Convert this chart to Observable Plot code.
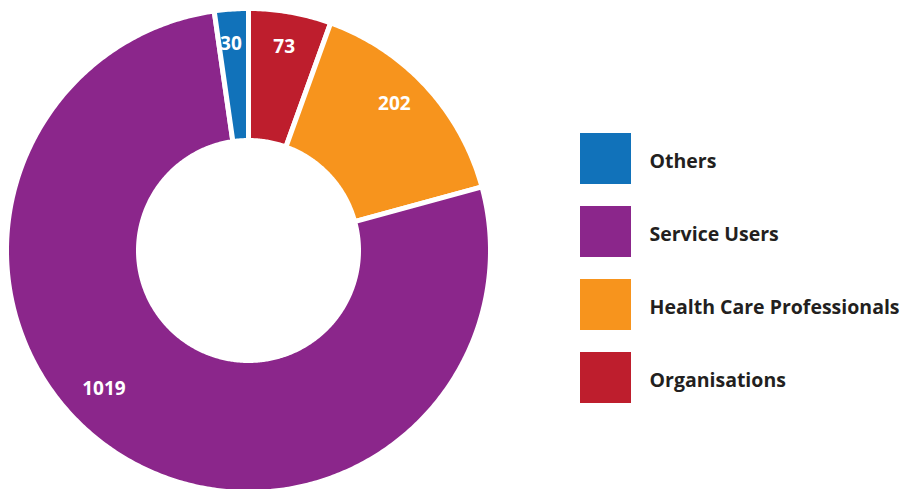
<!DOCTYPE html>
<html>
<head>
<meta charset="utf-8">
<script src="https://cdn.jsdelivr.net/npm/d3@7"></script>
<script src="https://cdn.jsdelivr.net/npm/@observablehq/plot@0.6"></script>
<style>
  html, body { margin: 0; padding: 0; background: #fff; }
  #chart { width: 904px; height: 489px; }
</style>
</head>
<body>
<div id="chart"></div>
<script>
// ---- data (clockwise from 12 o'clock) ----
const categories = ["Organisations", "Health Care Professionals", "Service Users", "Others"];
const values = [73, 202, 1019, 30];
const colors = ["#be1e2d", "#f7941d", "#8b268b", "#1172ba"];
// legend order (top to bottom)
const legendOrder = ["Others", "Service Users", "Health Care Professionals", "Organisations"];

// ---- layout (pixel space) ----
const W = 904, H = 489;
const cx = 248, cy = 250, rOuter = 242, rInner = 110, rLabel = 207;
const labelShift = {"Service Users": 13 * Math.PI / 180, "Health Care Professionals": -2.5 * Math.PI / 180, "Others": -0.8 * Math.PI / 180};

const pie = d3.pie().sort(null).value(d => d.value)(
  categories.map((c, i) => ({category: c, value: values[i], color: colors[i]}))
);

// polygon points for each slice
const pts = [];
for (const a of pie) {
  const n = Math.max(8, Math.ceil((a.endAngle - a.startAngle) / 0.01));
  for (let k = 0; k <= n; k++) {
    const t = a.startAngle + (a.endAngle - a.startAngle) * k / n;
    pts.push({category: a.data.category, x: cx + rOuter * Math.sin(t), y: cy - rOuter * Math.cos(t)});
  }
  for (let k = n; k >= 0; k--) {
    const t = a.startAngle + (a.endAngle - a.startAngle) * k / n;
    pts.push({category: a.data.category, x: cx + rInner * Math.sin(t), y: cy - rInner * Math.cos(t)});
  }
}

const labels = pie.map(a => {
  const m = (a.startAngle + a.endAngle) / 2 + (labelShift[a.data.category] || 0);
  const r = a.data.category === "Service Users" ? 200 : rLabel;
  return {text: String(a.data.value), x: cx + r * Math.sin(m), y: cy - r * Math.cos(m)};
});

const legend = legendOrder.map((c, i) => ({
  category: c,
  x1: 580, x2: 631, y1: 133 + 73 * i, y2: 184 + 73 * i,
  tx: 649, ty: 161 + 73 * i
}));

const colorScale = {domain: categories, range: colors};

const chart = Plot.plot({
  width: W, height: H,
  margin: 0,
  x: {domain: [0, W], range: [0, W], axis: null},
  y: {domain: [0, H], range: [0, H], axis: null},
  color: colorScale,
  style: {fontFamily: "'Open Sans', sans-serif", background: "#fff"},
  marks: [
    Plot.line(pts, {x: "x", y: "y", z: "category", fill: "category", stroke: "white", strokeWidth: 5, curve: "linear-closed"}),
    Plot.text(labels, {x: "x", y: "y", text: "text", fill: "white", fontSize: 19, fontWeight: "bold"}),
    Plot.rect(legend, {x1: "x1", x2: "x2", y1: "y1", y2: "y2", fill: "category"}),
    Plot.text(legend, {x: "tx", y: "ty", text: "category", textAnchor: "start", fill: "#231f20", fontSize: 19.5, fontWeight: "bold"})
  ]
});
document.getElementById("chart").appendChild(chart);
</script>
</body>
</html>
